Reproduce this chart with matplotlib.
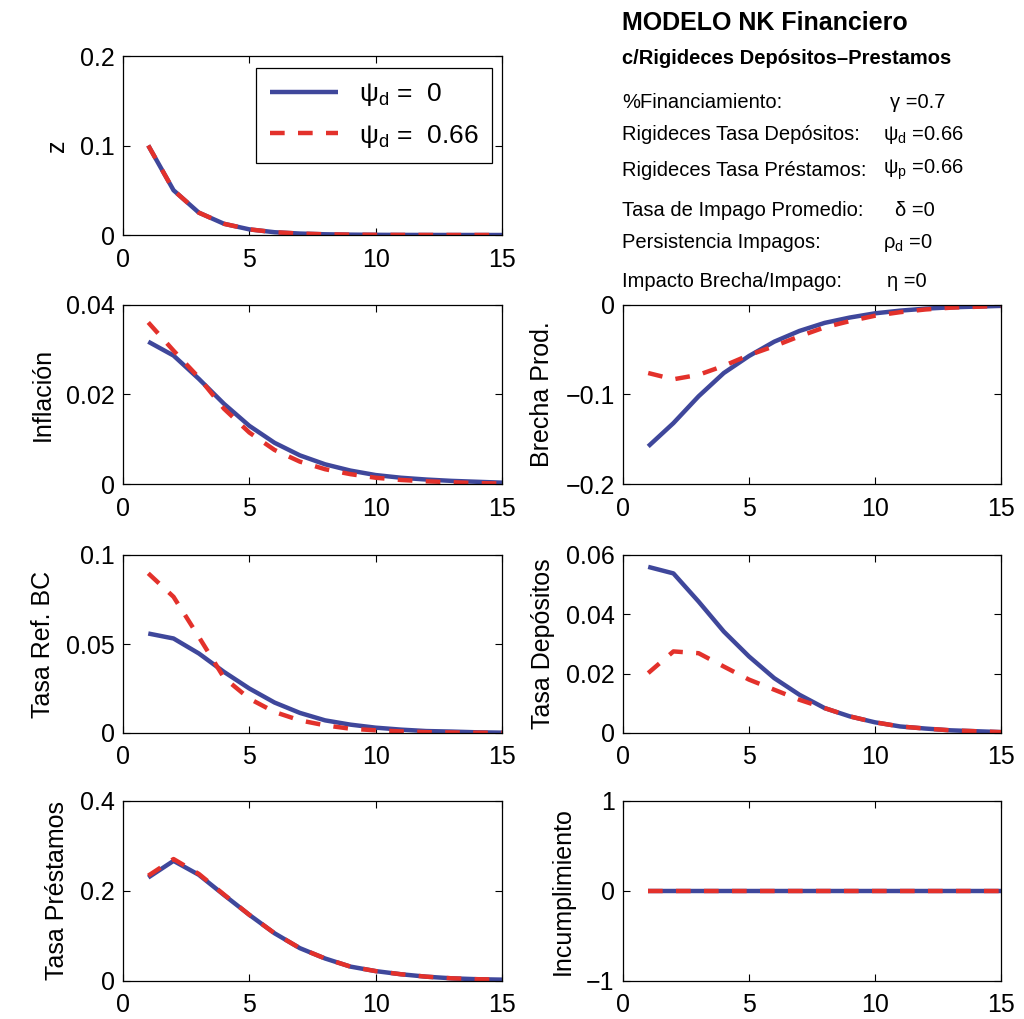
import numpy as np
import matplotlib
matplotlib.use('Agg')
import matplotlib.pyplot as plt

plt.rcParams['font.family'] = ['Liberation Sans', 'DejaVu Sans']
plt.rcParams['mathtext.fontset'] = 'custom'
plt.rcParams['mathtext.rm'] = 'Liberation Sans'
plt.rcParams['mathtext.it'] = 'Liberation Sans'

# periods
t = np.arange(1, 16)

# impulse responses (psi_d = 0 / psi_d = 0.66)
z_0 = [0.1, 0.05, 0.025, 0.0125, 0.0063, 0.0031, 0.0016, 0.0008, 0.0004, 0.0002, 0.0001, 0.00005, 0.00002, 0.00001, 0.0]
z_66 = [0.1, 0.05, 0.025, 0.0125, 0.0063, 0.0031, 0.0016, 0.0008, 0.0004, 0.0002, 0.0001, 0.00005, 0.00002, 0.00001, 0.0]

infl_0 = [0.0318, 0.0287, 0.0235, 0.0179, 0.013, 0.0092, 0.0064, 0.0044, 0.003, 0.002, 0.0014, 0.001, 0.0007, 0.0005, 0.0003]
infl_66 = [0.0361, 0.0298, 0.0238, 0.0168, 0.0115, 0.0076, 0.005, 0.0033, 0.0022, 0.0014, 0.0009, 0.0006, 0.0004, 0.0002, 0.0001]

brecha_0 = [-0.158, -0.132, -0.102, -0.076, -0.057, -0.041, -0.029, -0.020, -0.014, -0.0093, -0.0063, -0.0041, -0.0026, -0.0018, -0.001]
brecha_66 = [-0.076, -0.083, -0.078, -0.068, -0.056, -0.046, -0.035, -0.025, -0.018, -0.012, -0.008, -0.005, -0.003, -0.002, -0.001]

refbc_0 = [0.0559, 0.0531, 0.0447, 0.0343, 0.025, 0.0171, 0.0113, 0.0071, 0.0047, 0.003, 0.0019, 0.0011, 0.0008, 0.0004, 0.0002]
refbc_66 = [0.0897, 0.0765, 0.054, 0.031, 0.0193, 0.0118, 0.0071, 0.0043, 0.0024, 0.0015, 0.0009, 0.0005, 0.0003, 0.0002, 0.0001]

depos_0 = [0.056, 0.0538, 0.0443, 0.0342, 0.0258, 0.0185, 0.0129, 0.0084, 0.0056, 0.0036, 0.0022, 0.0015, 0.0009, 0.0006, 0.0003]
depos_66 = [0.0202, 0.0275, 0.0269, 0.0224, 0.018, 0.0146, 0.0112, 0.0084, 0.0056, 0.0036, 0.0022, 0.0015, 0.0009, 0.0006, 0.0003]

prest_0 = [0.23, 0.267, 0.236, 0.191, 0.147, 0.106, 0.073, 0.050, 0.032, 0.022, 0.015, 0.0096, 0.006, 0.004, 0.003]
prest_66 = [0.234, 0.271, 0.238, 0.192, 0.147, 0.106, 0.073, 0.050, 0.032, 0.022, 0.015, 0.0096, 0.006, 0.004, 0.003]

incump_0 = [0.0] * 15
incump_66 = [0.0] * 15

xticks = [0, 5, 10, 15]

# (label, blue, red, ylim, yticks, ytick labels, row, col)
panels = [
    ('z', z_0, z_66, (0, 0.2), [0, 0.1, 0.2], ['0', '0.1', '0.2'], 0, 0),
    ('Inflación', infl_0, infl_66, (0, 0.04), [0, 0.02, 0.04], ['0', '0.02', '0.04'], 1, 0),
    ('Brecha Prod.', brecha_0, brecha_66, (-0.2, 0), [-0.2, -0.1, 0], ['\u22120.2', '\u22120.1', '0'], 1, 1),
    ('Tasa Ref. BC', refbc_0, refbc_66, (0, 0.1), [0, 0.05, 0.1], ['0', '0.05', '0.1'], 2, 0),
    ('Tasa Depósitos', depos_0, depos_66, (0, 0.06), [0, 0.02, 0.04, 0.06], ['0', '0.02', '0.04', '0.06'], 2, 1),
    ('Tasa Préstamos', prest_0, prest_66, (0, 0.4), [0, 0.2, 0.4], ['0', '0.2', '0.4'], 3, 0),
    ('Incumplimiento', incump_0, incump_66, (-1, 1), [-1, 0, 1], ['\u22121', '0', '1'], 3, 1),
]

blue = '#3F479B'
red = '#E3312B'

W, H = 1024, 1019
fig = plt.figure(figsize=(W / 100, H / 100), dpi=100)

col_x = [(123, 502), (623, 1001)]
row_y = [(56, 235), (305, 484), (555, 733), (801, 981)]

axes = {}
for label, yb, yr, ylim, yt, ytl, r, c in panels:
    x0, x1 = col_x[c]
    y0, y1 = row_y[r]
    ax = fig.add_axes([x0 / W, 1 - y1 / H, (x1 - x0) / W, (y1 - y0) / H])
    ax.plot(t, yb, color=blue, lw=3.2, solid_capstyle='butt', label='ψ$_{\\rm d}$ =  0')
    ax.plot(t, yr, color=red, lw=3.2, dashes=(3.3, 3.0), label='ψ$_{\\rm d}$ =  0.66')
    ax.set_xlim(0, 15)
    ax.set_ylim(*ylim)
    ax.set_xticks(xticks)
    ax.set_yticks(yt)
    ax.set_yticklabels(ytl)
    ax.tick_params(direction='in', top=True, right=True, labelsize=18, length=5, pad=6)
    ax.tick_params(axis='x', pad=9)
    ax.set_ylabel(label, fontsize=18, labelpad=8)
    for s in ax.spines.values():
        s.set_linewidth(0.9)
    axes[(r, c)] = ax

leg = axes[(0, 0)].legend(loc='upper right', fontsize=19, handlelength=2.6, borderpad=0.5,
                          labelspacing=0.55, fancybox=False, framealpha=1, borderaxespad=0,
                          edgecolor='black', bbox_to_anchor=(0.974, 0.933))
leg.get_frame().set_linewidth(0.9)

# text panel top right
fig.text(622 / W, 1 - 23 / H, 'MODELO NK Financiero', fontsize=18, fontweight='bold', va='center')
fig.text(622 / W, 1 - 58 / H, 'c/Rigideces Depósitos\u2013Prestamos', fontsize=14.5, fontweight='bold', va='center')

param_names = ['%Financiamiento:', 'Rigideces Tasa Depósitos:', 'Rigideces Tasa Préstamos:',
               'Tasa de Impago Promedio:', 'Persistencia Impagos:', 'Impacto Brecha/Impago:']
param_values = ['γ =0.7', 'ψ$_{\\rm d}$ =0.66', 'ψ$_{\\rm p}$ =0.66',
                'δ =0', 'ρ$_{\\rm d}$ =0', 'η =0']
param_y = [103, 135, 170, 210, 243, 282]
param_x = [890, 883, 883, 895, 883, 887]
for name, val, py, px in zip(param_names, param_values, param_y, param_x):
    fig.text(622 / W, 1 - py / H, name, fontsize=14.5, va='center')
    fig.text(px / W, 1 - py / H, val, fontsize=14.5, va='center')

fig.savefig('out.png', dpi=100, facecolor='white')
